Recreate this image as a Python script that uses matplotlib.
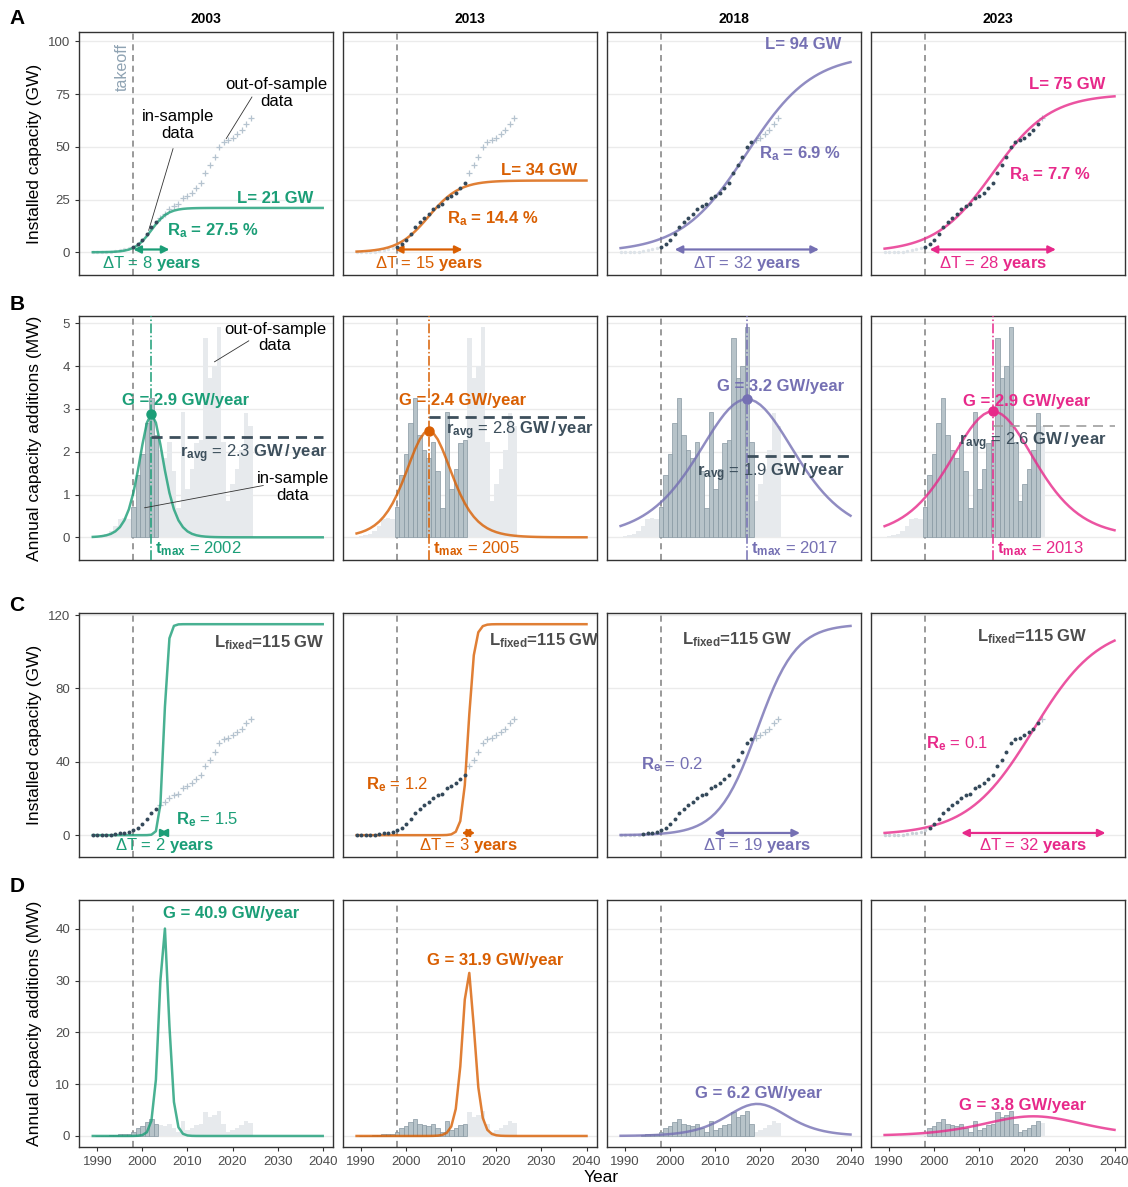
import numpy as np
import matplotlib.pyplot as plt

plt.rcParams['font.family'] = ['Liberation Sans', 'DejaVu Sans']
plt.rcParams['mathtext.fontset'] = 'custom'
plt.rcParams['mathtext.rm'] = 'Liberation Sans'
plt.rcParams['mathtext.bf'] = 'Liberation Sans:bold'
plt.rcParams['mathtext.it'] = 'Liberation Sans:italic'
plt.rcParams['mathtext.sf'] = 'Liberation Sans'

# ---- data ----
years = np.arange(1990, 2025)
additions = np.array([0.02, 0.05, 0.08, 0.14, 0.26, 0.42, 0.45, 0.43, 0.70, 1.46,
                      1.95, 2.67, 3.25, 2.38, 2.05, 1.85, 2.23, 1.55, 0.68, 2.92,
                      1.14, 1.60, 2.20, 2.27, 4.66, 3.71, 4.00, 4.92, 2.22, 0.85,
                      1.24, 1.60, 2.05, 2.90, 2.60])  # GW per year
cap_1989 = 0.02
cap_years = np.arange(1989, 2025)
capacity = np.concatenate([[cap_1989], cap_1989 + np.cumsum(additions)])

snapshots = [2003, 2013, 2018, 2023]
takeoff = 1998
colors = ['#1b9e77', '#d95f02', '#7570b3', '#e7298a']

# logistic fit on in-sample data (rows A, B)
L_fit = [21, 34, 94, 75]
dT_fit = [8, 15, 32, 28]
t_max = [2002, 2005, 2017, 2013]
G_fit = [2.9, 2.4, 3.2, 2.9]
Ra = [27.5, 14.4, 6.9, 7.7]
r_avg = [2.34, 2.8, 1.9, 2.6]

# fixed saturation level (rows C, D)
L_fixed = 115
dT_fixed = [2, 3, 19, 32]
t0_fixed = [2004.8, 2013.8, 2019.3, 2022.0]
G_fixed = [40.9, 31.9, 6.2, 3.8]
Re = [1.5, 1.2, 0.2, 0.1]
window = 24

t = np.arange(1989, 2041)

# ---- label placement ----
Ra_pos = [(2015.5, 10), (2019.1, 16), (2028.9, 46.9), (2025.8, 37)]
G_lab_y = [3.2, 3.2, 3.53, 3.18]
ravg_pos = [(2024.7, 1.96), (2025.3, 2.5), (2022.4, 1.52), (2021.9, 2.24)]
Lfix_pos = [(2028.1, 104.9), (2030.6, 105.8), (2014.8, 106.4), (2021.7, 108)]
Re_pos = [(2014.3, 8.5), (1998.1, 27.3), (2000.4, 38.7), (2005.0, 50)]

W, H = 1128, 1187
fig = plt.figure(figsize=(W / 100, H / 100), dpi=100)
col_left = [79, 342.8, 606.8, 870.8]
col_w = 254.3
row_box = [(32.3, 242.7), (316, 244), (613, 244), (900, 247)]
ylims = [(-10.8, 104.3), (-0.53, 5.17), (-11.9, 121.1), (-2.13, 45.6)]
yticks = [[0, 25, 50, 75, 100], [0, 1, 2, 3, 4, 5], [0, 40, 80, 120], [0, 10, 20, 30, 40]]
ylabels = ['Installed capacity (GW)', 'Annual capacity additions (MW)',
           'Installed capacity (GW)', 'Annual capacity additions (MW)']

dot_c = '#34495a'
cross_c = '#b5c3cf'
faint_c = '#dde3e8'
bar_dark = '#b7c3c9'
bar_edge = '#8797a1'
bar_light = '#e7eaed'
slate = '#3d4f5c'
FS = 12


def logistic(x, L, k, t0):
    return L / (1 + np.exp(-k * (x - t0)))


def make_ax(r, c):
    top, h = row_box[r]
    ax = fig.add_axes([col_left[c] / W, 1 - (top + h) / H, col_w / W, h / H])
    ax.set_xlim(1985.94, 2042.35)
    ax.set_ylim(*ylims[r])
    ax.set_yticks(yticks[r])
    ax.set_xticks(np.arange(1990, 2041, 10))
    ax.yaxis.grid(True, color='#ebebeb', lw=1.0)
    ax.set_axisbelow(True)
    for s in ax.spines.values():
        s.set_color('#333333')
        s.set_linewidth(1.0)
    ax.tick_params(colors='#333333', labelcolor='#4d4d4d', labelsize=9.5, length=3)
    if c > 0:
        ax.tick_params(left=False, labelleft=False)
    if r < 3:
        ax.tick_params(bottom=False, labelbottom=False)
    ax.axvline(takeoff, color='#7f7f7f', ls=(0, (4, 3)), lw=1.1, zorder=1)
    return ax


def dt_arrow(ax, x0, x1, y, c):
    ax.annotate('', xy=(x1, y), xytext=(x0, y),
                arrowprops=dict(arrowstyle='<|-|>', color=c, lw=1.6,
                                mutation_scale=11, shrinkA=0, shrinkB=0))


for i, yr in enumerate(snapshots):
    c = colors[i]
    k = np.log(81) / dT_fit[i]

    # ---- row A ----
    ax = make_ax(0, i)
    pre = cap_years < takeoff
    ins = (cap_years >= takeoff) & (cap_years <= yr)
    post = cap_years > yr
    ax.scatter(cap_years[pre], capacity[pre], s=6, color=faint_c, lw=0, zorder=3)
    ax.scatter(cap_years[post], capacity[post], s=16, marker='+', color=cross_c, lw=0.9, zorder=3)
    ax.plot(t, logistic(t, L_fit[i], k, t_max[i]), color=c, lw=1.8, alpha=0.8, zorder=4)
    ax.scatter(cap_years[ins], capacity[ins], s=8, color=dot_c, lw=0, zorder=5)
    ax.text(2029.5, L_fit[i] + 4.6, f'L= {L_fit[i]} GW', color=c, fontsize=FS,
            fontweight='bold', ha='center', va='center')
    ax.text(*Ra_pos[i], f'$\\mathbf{{R_a}}$ = {Ra[i]} %', color=c, fontsize=FS,
            fontweight='bold', ha='center', va='center')
    dt_arrow(ax, t_max[i] - dT_fit[i] / 2, t_max[i] + dT_fit[i] / 2, 1.3, c)
    ax.text(t_max[i], -5.4, f'ΔT = {dT_fit[i]} $\\mathbf{{years}}$', color=c,
            fontsize=FS, ha='center', va='center')
    if i == 0:
        ax.text(1995.6, 88, 'takeoff', rotation=90, color='#8fa3b3', fontsize=11.5,
                ha='center', va='center')
        ax.text(2007.9, 60.2, 'in-sample\ndata', fontsize=FS, ha='center', va='center',
                linespacing=1.15)
        ax.plot([2006.8, 2001.4], [49.1, 10.4], color='#333333', lw=0.6)
        ax.text(2029.8, 75.4, 'out-of-sample\ndata', fontsize=FS, ha='center',
                va='center', linespacing=1.15)
        ax.plot([2024.3, 2018.6], [73.6, 53.9], color='#333333', lw=0.6)
    ax.set_title(str(yr), fontsize=10, fontweight='bold', pad=7)

    # ---- row B ----
    ax = make_ax(1, i)
    dark = (years >= takeoff) & (years <= yr)
    ax.bar(years[~dark], additions[~dark], width=1, color=bar_light, lw=0, zorder=2)
    ax.bar(years[dark], additions[dark], width=1, color=bar_dark,
           edgecolor=bar_edge, lw=0.5, zorder=2)
    s = logistic(t, 1, k, t_max[i])
    ax.plot(t, k * L_fit[i] * s * (1 - s), color=c, lw=1.8, alpha=0.8, zorder=4)
    ax.axvline(t_max[i], color=c, ls='-.', lw=1.1, zorder=3)
    if i < 3:
        ax.plot([t_max[i], 2040], [r_avg[i]] * 2, color=slate, lw=2.0,
                ls=(0, (4, 2.5)), zorder=4)
    else:
        ax.plot([t_max[i], 2040], [r_avg[i]] * 2, color='#9e9e9e', lw=1.2,
                ls=(0, (6, 4)), zorder=4)
    ax.plot(t_max[i], k * L_fit[i] / 4, 'o', color=c, ms=6.5, zorder=6)
    ax.text(t_max[i] + 7.5, G_lab_y[i], f'G = {G_fit[i]} GW/year', color=c,
            fontsize=FS, fontweight='bold', ha='center', va='center', zorder=7)
    ax.text(*ravg_pos[i],
            f'$\\mathbf{{r_{{avg}}}}$ = {r_avg[i]:.1f} $\\mathbf{{GW\\,/\\,year}}$',
            color=slate, fontsize=FS, ha='center', va='center', zorder=7)
    ax.text(t_max[i] + 0.9, -0.27, f'$\\mathbf{{t_{{max}}}}$ = {t_max[i]}', color=c,
            fontsize=FS, ha='left', va='center')
    if i == 0:
        ax.text(2029.4, 4.67, 'out-of-sample\ndata', fontsize=FS, ha='center',
                va='center', linespacing=1.15)
        ax.plot([2023.6, 2016.0], [4.59, 4.1], color='#333333', lw=0.6, zorder=5)
        ax.text(2033.3, 1.17, 'in-sample\ndata', fontsize=FS, ha='center',
                va='center', linespacing=1.15)
        ax.plot([2026.8, 2000.5], [1.21, 0.69], color='#333333', lw=0.6, zorder=5)

    # ---- row C ----
    ax = make_ax(2, i)
    start = max(1989, yr - window)
    pre = cap_years < start
    ins = (cap_years >= start) & (cap_years <= yr)
    post = cap_years > yr
    kc = np.log(81) / dT_fixed[i]
    ax.scatter(cap_years[pre], capacity[pre], s=6, color='#c9d1d7', lw=0, zorder=3)
    ax.scatter(cap_years[post], capacity[post], s=16, marker='+', color=cross_c, lw=0.9, zorder=3)
    ax.plot(t, logistic(t, L_fixed, kc, t0_fixed[i]), color=c, lw=1.8, alpha=0.8, zorder=4)
    ax.scatter(cap_years[ins], capacity[ins], s=8, color=dot_c, lw=0, zorder=5)
    ax.text(*Lfix_pos[i], f'$\\mathbf{{L_{{fixed}}}}$={L_fixed} GW', color='#4d4d4d',
            fontsize=FS, fontweight='bold', ha='center', va='center')
    ax.text(*Re_pos[i], f'$\\mathbf{{R_e}}$ = {Re[i]}', color=c, fontsize=FS,
            ha='center', va='center')
    dt_arrow(ax, t0_fixed[i] - dT_fixed[i] / 2, t0_fixed[i] + dT_fixed[i] / 2, 1.2, c)
    ax.text(t0_fixed[i], -5.8, f'ΔT = {dT_fixed[i]} $\\mathbf{{years}}$', color=c,
            fontsize=FS, ha='center', va='center')

    # ---- row D ----
    ax = make_ax(3, i)
    dark = (years >= start) & (years <= yr)
    ax.bar(years[~dark], additions[~dark], width=1, color=bar_light, lw=0, zorder=2)
    ax.bar(years[dark], additions[dark], width=1, color=bar_dark,
           edgecolor=bar_edge, lw=0.5, zorder=2)
    kd = 4 * G_fixed[i] / L_fixed
    s = logistic(t, 1, kd, t0_fixed[i])
    ax.plot(t, 4 * G_fixed[i] * s * (1 - s), color=c, lw=1.8, alpha=0.8, zorder=4)
    ax.text(2019.7, G_fixed[i] + 2, f'G = {G_fixed[i]} GW/year', color=c,
            fontsize=FS, fontweight='bold', ha='center', va='center', zorder=7)

# shared labels
for r, (top, h) in enumerate(row_box):
    fig.text(35 / W, 1 - (top + h / 2) / H, ylabels[r], rotation=90, fontsize=12.5,
             ha='center', va='center')
for lab, y in zip('ABCD', [18, 305, 606, 886]):
    fig.text(17 / W, 1 - y / H, lab, fontsize=15, fontweight='bold', ha='center', va='center')
fig.text(601 / W, 1 - 1178 / H, 'Year', fontsize=12.5, ha='center', va='center')

fig.savefig('out.png', dpi=100)
